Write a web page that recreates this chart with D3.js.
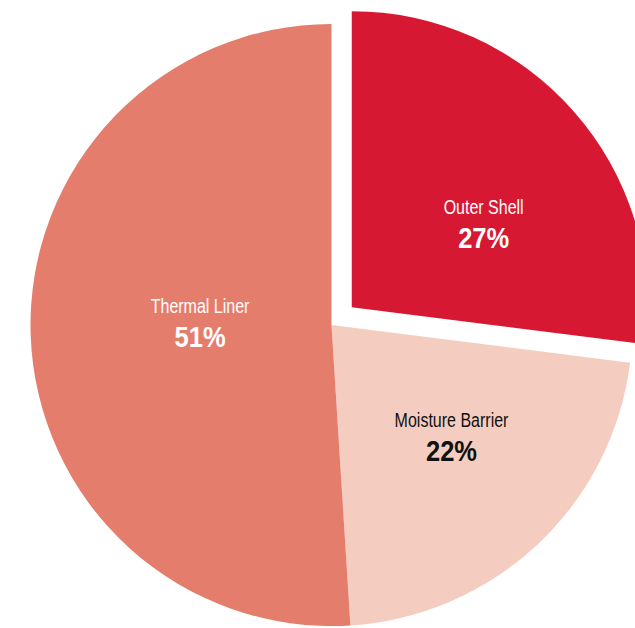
<!DOCTYPE html>
<html>
<head>
<meta charset="utf-8">
<script src="https://cdn.jsdelivr.net/npm/d3@7"></script>
<style>
  html, body { margin: 0; padding: 0; background: #fff; overflow: hidden; }
  svg { display: block; }
  .name { font-family: "Liberation Sans", Arial, sans-serif; font-size: 20px; }
  .pct { font-family: "Liberation Sans", Arial, sans-serif; font-size: 29px; font-weight: bold; }
</style>
</head>
<body>
<div id="chart"></div>
<script>
// Layer shares, clockwise from 12 o'clock
const categories = ['Outer Shell', 'Moisture Barrier', 'Thermal Liner'];
const values = [27, 22, 51];
const colors = ['#d71832', '#f5cdc0', '#e57d6c'];
const textColors = ['#fff', '#111', '#fff'];
const exploded = ['Outer Shell'];

const width = 635, height = 628;
const cx = 331.5, cy = 325, radius = 301;

// hand placement tweaks for the labels (px, from arc centroid)
const labelNudge = { 'Outer Shell': [19, 18], 'Moisture Barrier': [17, 4], 'Thermal Liner': [19, -5] };

const svg = d3.select('#chart')
  .append('svg')
  .attr('width', width)
  .attr('height', height);

const g = svg.append('g')
  .attr('transform', `translate(${cx},${cy})`);

const data = categories.map((c, i) => ({ name: c, value: values[i], color: colors[i], text: textColors[i] }));

const pie = d3.pie().sort(null).value(d => d.value);
const arc = d3.arc().innerRadius(0).outerRadius(radius);
const smallArc = d3.arc().innerRadius(0).outerRadius(radius - 5);
const labelArc = d3.arc().innerRadius(0).outerRadius(radius);

const arcs = pie(data);

const isOut = d => exploded.includes(d.data.name);

// offset for pulled-out slice
function offset(d) {
  if (!isOut(d)) return [0, 0];
  const a = (d.startAngle + d.endAngle) / 2;
  return [Math.sin(a) * 27, -Math.cos(a) * 27];
}

const slice = g.selectAll('.slice')
  .data(arcs)
  .enter()
  .append('g')
  .attr('class', 'slice')
  .attr('transform', d => `translate(${offset(d)})`);

slice.append('path')
  .attr('d', d => isOut(d) ? smallArc(d) : arc(d))
  .attr('fill', d => d.data.color);

const label = slice.append('g')
  .attr('transform', d => {
    const c = labelArc.centroid(d);
    const n = labelNudge[d.data.name] || [0, 0];
    return `translate(${c[0] + n[0]},${c[1] + n[1]})`;
  })
  .attr('fill', d => d.data.text);

label.append('text')
  .attr('class', 'name')
  .attr('text-anchor', 'middle')
  .attr('transform', 'translate(0,-12) scale(0.8,1)')
  .text(d => d.data.name);

label.append('text')
  .attr('class', 'pct')
  .attr('text-anchor', 'middle')
  .attr('transform', 'translate(0,22) scale(0.88,1)')
  .text(d => d.data.value + '%');
</script>
</body>
</html>
